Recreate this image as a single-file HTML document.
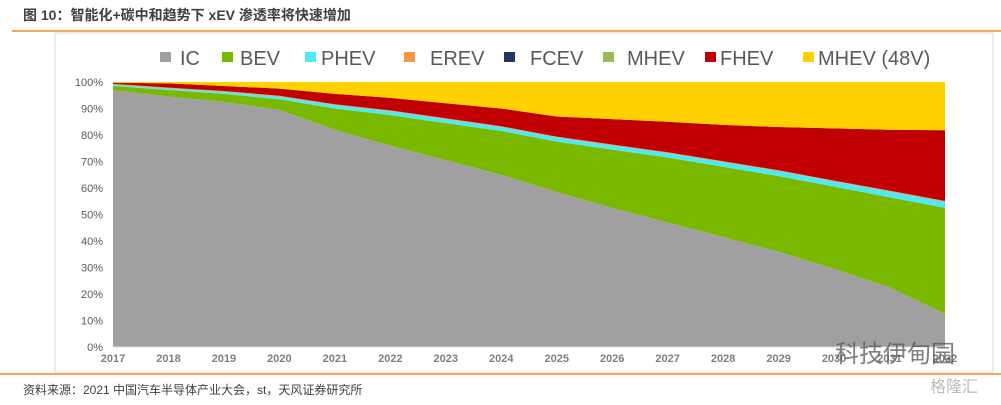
<!DOCTYPE html>
<html><head><meta charset="utf-8">
<style>
body{margin:0;background:#fff;width:1001px;height:400px;overflow:hidden;font-family:"Liberation Sans","Noto Sans CJK SC",sans-serif;}
</style></head>
<body>
<svg id="chart" width="1001" height="400" xmlns="http://www.w3.org/2000/svg">
<text x="23" y="20" font-size="14" font-weight="bold" fill="#404040" font-family="Liberation Sans, Noto Sans CJK SC, sans-serif">图 10：智能化+碳中和趋势下 xEV 渗透率将快速增加</text>
<line x1="12" y1="31" x2="1001" y2="31" stroke="#f08a24" stroke-width="1.5"/>
<rect x="55" y="33" width="938" height="339" fill="#fff" stroke="#d9d9d9"/>
<g id="legend"></g>
<g id="plot"></g>
<g id="yaxis"></g>
<g id="xaxis"></g>
<line x1="0" y1="374" x2="1001" y2="374" stroke="#f08a24" stroke-width="1.5"/>
<text x="23" y="394" font-size="12" fill="#404040">资料来源：2021 中国汽车半导体产业大会，st，天风证券研究所</text>
<text x="835" y="362" font-size="24" fill="#555" opacity="0.75">科技伊甸园</text>
<text x="930" y="392" font-size="16" fill="#bbb">格隆汇</text>
</svg>
<script>
const years=["2017","2018","2019","2020","2021","2022","2023","2024","2025","2026","2027","2028","2029","2030","2031","2032"];
const seriesNames=["IC","BEV","PHEV","EREV","FCEV","MHEV","FHEV","MHEV (48V)"];
const ic=[97,94.5,92.5,89.5,82,76,70.5,65,58.5,52.5,47,41.5,36,29.5,22.5,12.5];
const bev=[1.5,2.5,3,4,8,11.5,14,16.5,19,22,24.5,26.5,28.5,31,34,40];
const phev=[0.5,0.6,0.8,1,1.3,1.5,1.5,1.5,1.6,1.6,1.7,1.8,1.9,2,2.2,2.3];
const erev=[0.3,0.3,0.3,0.3,0.3,0.3,0.3,0.3,0.3,0.3,0.3,0.3,0.3,0.3,0.3,0.3];
const fcev=[0,0,0,0,0,0,0,0,0,0,0,0,0,0,0,0];
const mhev=[0,0,0,0,0,0,0,0,0,0,0,0,0,0,0,0];
const fhev=[0.4,1.6,1.9,2.7,3.9,4.7,5.7,6.7,7.6,9.6,11.5,13.7,16.3,19.7,23,26.7];
const yTicks=[0,10,20,30,40,50,60,70,80,90,100];
const colors=["#a0a0a0","#7ab800","#4deaf5","#f79646","#1f3864","#9bbb59","#c00000","#ffd100"];
const NS="http://www.w3.org/2000/svg";
const X0=113,X1=945,Y0=347,Y1=82;
const xs=i=>X0+(X1-X0)*i/(years.length-1);
const ys=v=>Y0-(Y1-Y0)*-1*0-(Y0-Y1)*v/100;
function mk(t,a,p){const e=document.createElementNS(NS,t);for(const k in a)e.setAttribute(k,a[k]);p.appendChild(e);return e;}
const mh48=years.map((_,i)=>100-ic[i]-bev[i]-phev[i]-erev[i]-fcev[i]-mhev[i]-fhev[i]);
const data=[ic,bev,phev,erev,fcev,mhev,fhev,mh48];
const plot=document.getElementById('plot');
let base=years.map(()=>0);
data.forEach((s,k)=>{
  const top=base.map((b,i)=>b+s[i]);
  let d="M"+years.map((_,i)=>xs(i)+","+ys(top[i])).join(" L");
  for(let i=years.length-1;i>=0;i--)d+=" L"+xs(i)+","+ys(base[i]);
  const p=mk('path',{d:d+"Z",fill:colors[k]},plot);
  
  
  base=top;
});
const ya=document.getElementById('yaxis');
yTicks.forEach(t=>{
  const tx=mk('text',{x:103,y:ys(t)+4,'text-anchor':'end','font-size':11,fill:'#595959'},ya);
  tx.textContent=t+"%";
  
  
});
const xa=document.getElementById('xaxis');
mk('line',{x1:X0,y1:Y0,x2:X1,y2:Y0,stroke:'#d9d9d9'},xa);
years.forEach((y,i)=>{
  const tx=mk('text',{x:xs(i),y:362,'text-anchor':'middle','font-size':11,'font-weight':'bold',fill:'#7f7f7f'},xa);
  tx.textContent=y;
  
  
});
const lg=document.getElementById('legend');
const lpos=[[160,180],[222,240],[305,321],[404,430],[504,530],[603,627],[705,720],[803,818]];
seriesNames.forEach((n,k)=>{
  const g=mk('g',{},lg);
  
  
  mk('rect',{x:lpos[k][0],y:52,width:11,height:10,fill:colors[k]},g);
  const t=mk('text',{x:lpos[k][1],y:65,'font-size':20,fill:'#595959'},g);
  t.textContent=n;
});
</script>
</body></html>
